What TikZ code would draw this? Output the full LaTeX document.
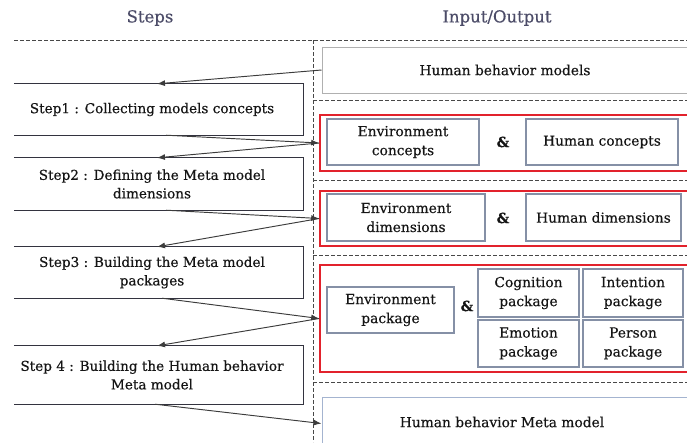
\documentclass[tikz,border=0pt]{standalone}
\usepackage{fontspec}
\setmainfont{DejaVu Serif}[FakeBold=0.4]
\usetikzlibrary{arrows.meta,calc}

\definecolor{headcol}{HTML}{4C4C68}
\definecolor{txtcol}{HTML}{151515}
\definecolor{stepline}{HTML}{33333F}
\definecolor{arrowcol}{HTML}{3C3C3C}
\definecolor{dashcol}{HTML}{484848}
\definecolor{redline}{HTML}{E2222C}
\definecolor{innerline}{HTML}{8590A6}
\definecolor{outerline}{HTML}{B0B0B0}
\definecolor{blueline}{HTML}{A4B4D0}

\tikzset{
  head/.style={font=\fontsize{16.5}{20}\selectfont, text=headcol},
  stepnode/.style={inner sep=0pt, align=center, text=txtcol,
    font=\fontsize{13.6}{18.5}\selectfont, minimum width=302pt},
  stepedge/.style={draw=stepline, line width=1.2pt},
  link/.style={draw=arrowcol, line width=0.95pt, -{Latex[length=8pt,width=6pt]}},
  sep/.style={draw=dashcol, line width=1pt, dash pattern=on 3.5pt off 2.5pt},
  redbox/.style={draw=redline, line width=1.6pt, inner sep=0pt},
  ioouter/.style={inner sep=0pt, align=center, text=txtcol,
    font=\fontsize{13.8}{18.5}\selectfont},
  inbox/.style={draw=innerline, line width=1.1pt, inner sep=0pt, align=center,
    text=txtcol, font=\fontsize{13.8}{19}\selectfont},
  amp/.style={font=\bfseries\fontsize{14}{16}\selectfont, text=txtcol},
}

\begin{document}
\begin{tikzpicture}[x=1pt, y=-1pt]
\useasboundingbox (0,0) rectangle (687,442);

% column headers
\node[head] (hsteps) at (150,18) {Steps};
\node[head] (hio) at (497,18) {Input/Output};

% dashed separators
\draw[sep] (14,40) -- (687,40);
\draw[sep] (313,40) -- (313,442);
\draw[sep] (313,100) -- (687,100);
\draw[sep] (313,180) -- (687,180);
\draw[sep] (313,255) -- (687,255);
\draw[sep] (313,382) -- (687,382);

% steps (boxes open on the left)
\node[stepnode, minimum height=51pt] (s1) at (152,109.5) {Step1 : Collecting models concepts};
\node[stepnode, minimum height=52pt] (s2) at (152,184) {Step2 : Defining the Meta model\\dimensions};
\node[stepnode, minimum height=51pt] (s3) at (152,272.5) {Step3 : Building the Meta model\\packages};
\node[stepnode, minimum height=58pt] (s4) at (152,375) {Step 4 : Building the Human behavior\\Meta model};
\foreach \s in {s1,s2,s3,s4}{
  \draw[stepedge] ([xshift=13pt]\s.north west) -- (\s.north east) -- (\s.south east) -- ([xshift=13pt]\s.south west);
}

% inputs / outputs
\node[ioouter, draw=outerline, line width=1pt, minimum width=368pt, minimum height=46pt] (hbm) at (506,70) {};
\node[ioouter] (hbmt) at (505,70) {Human behavior models};

\node[redbox, minimum width=369pt, minimum height=56pt] (r1) at (504.5,143) {};
\node[inbox, minimum width=152pt, minimum height=46pt] (ec) at (403,142) {Environment\\concepts};
\node[amp] (a1) at (503,142) {\&};
\node[inbox, minimum width=152pt, minimum height=46pt] (hc) at (602,142) {Human concepts};

\node[redbox, minimum width=369pt, minimum height=55pt] (r2) at (504.5,218.5) {};
\node[inbox, minimum width=158pt, minimum height=47pt] (ed) at (406,217.5) {Environment\\dimensions};
\node[amp] (a2) at (503,218) {\&};
\node[inbox, minimum width=155pt, minimum height=47pt] (hd) at (603.5,217.5) {Human dimensions};

\node[redbox, minimum width=369pt, minimum height=107pt] (r3) at (504.5,318.5) {};
\node[inbox, minimum width=127pt, minimum height=46pt] (ep) at (390.5,310) {Environment\\package};
\node[amp] (a3) at (467,306) {\&};
\node[inbox, minimum width=101pt, minimum height=48pt] (cog) at (528.5,293) {Cognition\\package};
\node[inbox, minimum width=100pt, minimum height=48pt] (int) at (633,293) {Intention\\package};
\node[inbox, minimum width=101pt, minimum height=47pt] (emo) at (528.5,343.5) {Emotion\\package};
\node[inbox, minimum width=100pt, minimum height=47pt] (per) at (633,343.5) {Person\\package};

\node[ioouter, draw=blueline, line width=1pt, minimum width=368pt, minimum height=53pt] (hbmm) at (506,423.5) {};
\node[ioouter] (hbmmt) at (502,422) {Human behavior Meta model};

% flow between steps and their inputs/outputs
\draw[link] (hbm.west) -- ([xshift=5pt]s1.north);
\draw[link] ([xshift=14pt]s1.south) -- (r1.west);
\draw[link] (r1.west) -- ([xshift=5pt]s2.north);
\draw[link] ([xshift=14pt]s2.south) -- (r2.west);
\draw[link] (r2.west) -- ([xshift=5pt]s3.north);
\draw[link] ([xshift=10pt]s3.south) -- (r3.west);
\draw[link] (r3.west) -- ([xshift=5pt]s4.north);
\draw[link] ([xshift=3pt]s4.south) -- (hbmm.west);
\end{tikzpicture}
\end{document}
